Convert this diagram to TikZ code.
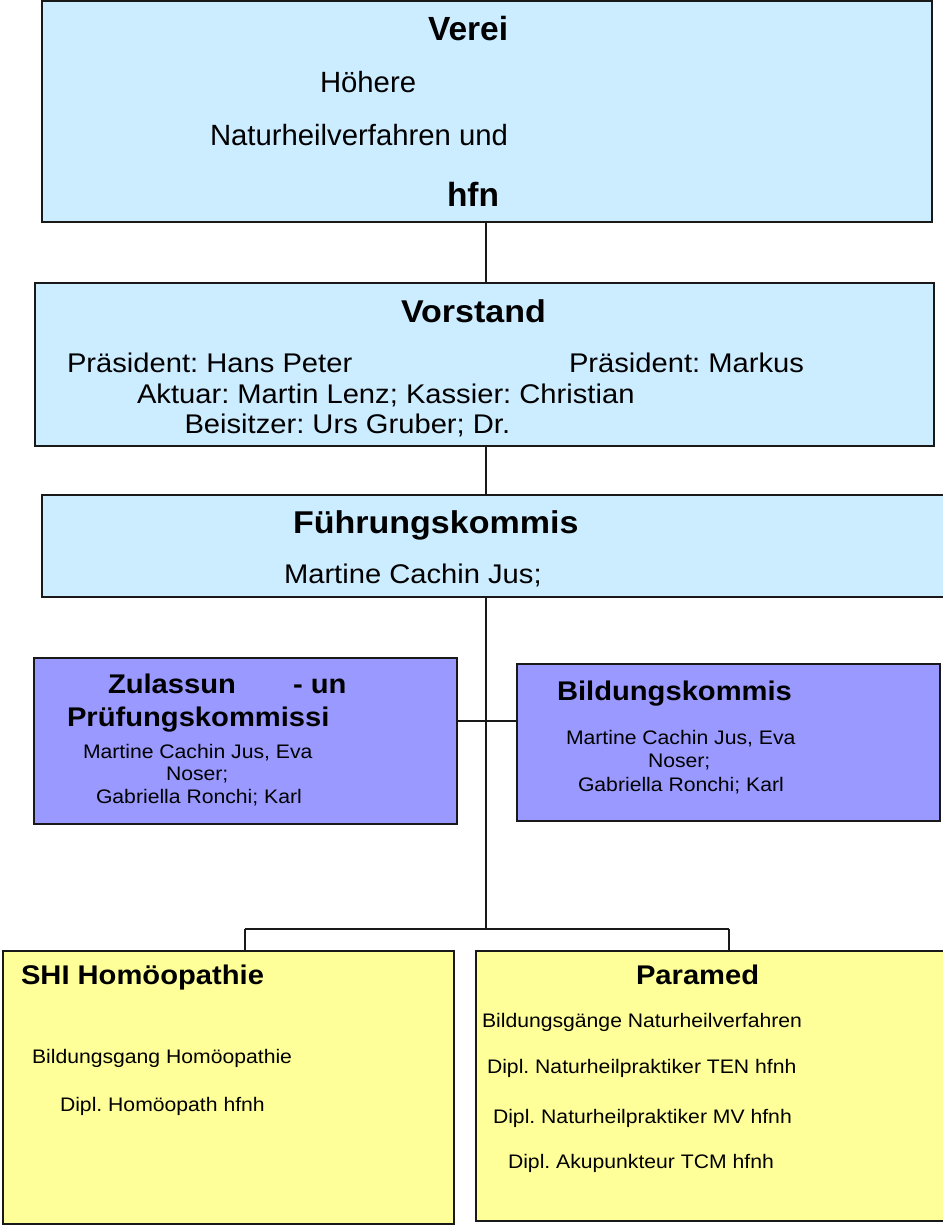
\documentclass[tikz,border=0pt]{standalone}
\usepackage{fontspec}
\setmainfont{Liberation Sans}[FakeStretch=1.08]
\newfontfamily\topfont{Liberation Sans}
\newcommand\fsz[1]{\fontsize{#1}{#1}\selectfont}
\frenchspacing
\definecolor{boxblue}{HTML}{CCECFF}
\definecolor{boxpurple}{HTML}{9999FF}
\definecolor{boxyellow}{HTML}{FFFF99}
\tikzset{
  orgbox/.style={draw=black!90, line width=1.6pt, inner sep=0pt, outer sep=0pt},
  bluebox/.style={orgbox, fill=boxblue},
  purplebox/.style={orgbox, fill=boxpurple},
  yellowbox/.style={orgbox, fill=boxyellow},
  lbl/.style={anchor=base west, inner sep=0pt, outer sep=0pt, text=black},
  conn/.style={draw=black!90, line width=1.4pt},
  topbig/.style={lbl, font=\frenchspacing\topfont\bfseries\fsz{33.5}},
  topreg/.style={lbl, font=\frenchspacing\topfont\fsz{29.3}},
  bigbold/.style={lbl, font=\frenchspacing\bfseries\fsz{31.5}},
  midbold/.style={lbl, font=\frenchspacing\bfseries\fsz{27}},
  bigreg/.style={lbl, font=\frenchspacing\fsz{27}},
  smallreg/.style={lbl, font=\frenchspacing\fsz{19.6}}
}
\begin{document}
\begin{tikzpicture}[x=1pt,y=-1pt]
\useasboundingbox (0,0) rectangle (942,1225);
% boxes
\node[bluebox, minimum width=890pt, minimum height=221pt] (b1) at (487,111.5) {};
\node[bluebox, minimum width=899pt, minimum height=163pt] (b2) at (484.5,364.5) {};
\node[bluebox, minimum width=904pt, minimum height=102pt] (b3) at (494,546) {};
\node[purplebox, minimum width=423pt, minimum height=166pt] (p1) at (245.5,741) {};
\node[purplebox, minimum width=423pt, minimum height=157pt] (p2) at (728.5,742.5) {};
\node[yellowbox, minimum width=451pt, minimum height=273pt] (y1) at (228.5,1087.5) {};
\node[yellowbox, minimum width=470pt, minimum height=270pt] (y2) at (711,1086) {};
% connector coordinates
\coordinate (sp) at (486,0);
\coordinate (jm) at (486,721);
\coordinate (bus) at (486,929);
\coordinate (dl) at (245,929);
\coordinate (dr) at (729,929);
% connectors
\draw[conn] (b1.south -| sp) -- (b2.north -| sp);
\draw[conn] (b2.south -| sp) -- (b3.north -| sp);
\draw[conn] (b3.south -| sp) -- (bus);
\draw[conn] (p1.east |- jm) -- (p2.west |- jm);
\draw[conn] (dl) -- (dr);
\draw[conn] (dl) -- (dl |- y1.north);
\draw[conn] (dr) -- (dr |- y2.north);
% top box texts
\node[topbig] (t1) at (428,41) {Verei};
\node[topreg] (t2) at (320,93) {Höhere};
\node[topreg] (t3) at (210,146) {Naturheilverfahren und};
\node[topbig] (t4) at (447,206) {hfn};
% Vorstand
\node[bigbold] (v1) at (401,322.7) {Vorstand};
\node[bigreg] (v2) at (67,372) {Präsident: Hans Peter};
\node[bigreg] (v3) at (569,372) {Präsident: Markus};
\node[bigreg] (v4) at (137,403) {Aktuar: Martin Lenz; Kassier: Christian};
\node[bigreg] (v5) at (184.5,433) {Beisitzer: Urs Gruber; Dr.};
% Fuehrungskommission
\node[bigbold] (f1) at (293,533) {Führungskommis};
\node[bigreg] (f2) at (284,583) {Martine Cachin Jus;};
% left purple
\node[midbold] (z1) at (108,693) {Zulassun};
\node[midbold] (z2) at (293,693) {- un};
\node[midbold] (z3) at (67,726) {Prüfungskommissi};
\node[smallreg] (z4) at (83,758) {Martine Cachin Jus, Eva};
\node[smallreg] (z5) at (166,780) {Noser;};
\node[smallreg] (z6) at (96,803) {Gabriella Ronchi; Karl};
% right purple
\node[midbold] (k1) at (557,700) {Bildungskommis};
\node[smallreg] (k2) at (566,744) {Martine Cachin Jus, Eva};
\node[smallreg] (k3) at (648,767) {Noser;};
\node[smallreg] (k4) at (578,791) {Gabriella Ronchi; Karl};
% left yellow
\node[midbold] (s1) at (21,984) {SHI Homöopathie};
\node[smallreg] (s2) at (32,1063) {Bildungsgang Homöopathie};
\node[smallreg] (s3) at (60,1111) {Dipl. Homöopath hfnh};
% right yellow
\node[midbold] (m1) at (636,984) {Paramed};
\node[smallreg] (m2) at (482,1027) {Bildungsgänge Naturheilverfahren};
\node[smallreg] (m3) at (487,1073) {Dipl. Naturheilpraktiker TEN hfnh};
\node[smallreg] (m4) at (493,1123) {Dipl. Naturheilpraktiker MV hfnh};
\node[smallreg] (m5) at (508,1168) {Dipl. Akupunkteur TCM hfnh};
\end{tikzpicture}
\end{document}
